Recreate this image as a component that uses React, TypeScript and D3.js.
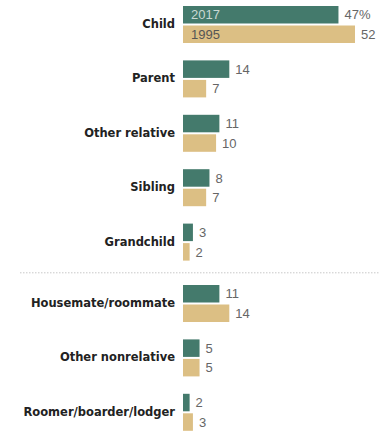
import React from "react";
import * as d3 from "d3";

const categories = [
  "Child",
  "Parent",
  "Other relative",
  "Sibling",
  "Grandchild",
  "Housemate/roommate",
  "Other nonrelative",
  "Roomer/boarder/lodger",
];
const values2017 = [47, 14, 11, 8, 3, 11, 5, 2];
const values1995 = [52, 7, 10, 7, 2, 14, 5, 3];
const seriesNames = ["2017", "1995"];

const W = 379;
const H = 433;
const x0 = 183;
const barH = 17.5;
const pitch = 54.4;
const dividerGap = 7;

export default function App() {
  const x = d3.scaleLinear().domain([0, 52]).range([x0, x0 + 172]);
  const yIdx = d3
    .scaleLinear()
    .domain([0, 1])
    .range([6, 6 + pitch]);
  const groupTop = (i: number) => yIdx(i) + (i >= 5 ? dividerGap : 0);
  const dividerY = (groupTop(4) + 2 * barH + 2 + groupTop(5)) / 2;
  const green = "#447a6c";
  const tan = "#dcbf84";
  const series = [values2017, values1995];
  const colors = [green, tan];

  return (
    <svg
      width={W}
      height={H}
      style={{ position: "absolute", left: 0, top: 0, display: "block" }}
      fontFamily="'Liberation Sans', Arial, sans-serif"
    >
      <rect width={W} height={H} fill="#fff" />
      <line
        x1={20}
        x2={W}
        y1={dividerY}
        y2={dividerY}
        stroke="#c8c8c8"
        strokeWidth={1}
        strokeDasharray="1.5,1.5"
      />
      {categories.map((c, i) => {
        const top = groupTop(i);
        return (
          <g key={c}>
            <text
              x={175}
              y={top + barH + 0.5}
              dy="0.35em"
              textAnchor="end"
              fontSize={11.5}
              fontWeight="bold"
              fontFamily="'DejaVu Sans', sans-serif"
              fill="#222"
            >
              {c}
            </text>
            {series.map((vals, s) => {
              const y = top + s * (barH + 2);
              const v = vals[i];
              return (
                <g key={s}>
                  <rect
                    x={x0}
                    y={y}
                    width={x(v) - x0}
                    height={barH}
                    fill={colors[s]}
                  />
                  <text
                    x={x(v) + 6}
                    y={y + barH / 2}
                    dy="0.36em"
                    fontSize={13}
                    fill="#666"
                  >
                    {i === 0 && s === 0 ? `${v}%` : v}
                  </text>
                  {i === 0 && (
                    <text
                      x={x0 + 8}
                      y={y + barH / 2}
                      dy="0.36em"
                      fontSize={13}
                      fill={s === 0 ? "#c9d8d3" : "#555"}
                    >
                      {seriesNames[s]}
                    </text>
                  )}
                </g>
              );
            })}
          </g>
        );
      })}
    </svg>
  );
}
